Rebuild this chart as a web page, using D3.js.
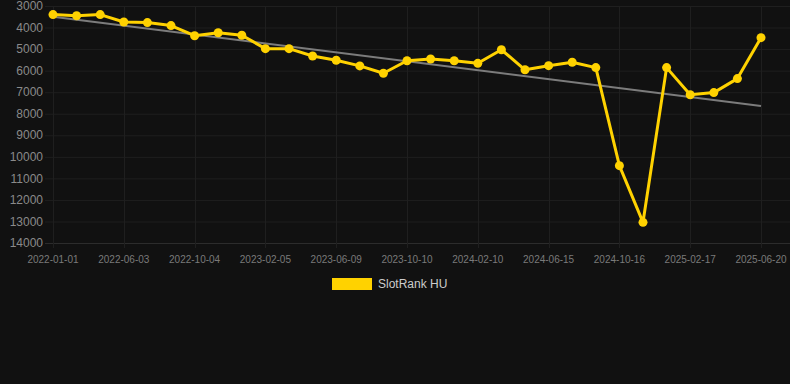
<!DOCTYPE html>
<html>
<head>
<meta charset="utf-8">
<script src="https://cdn.jsdelivr.net/npm/d3@7"></script>
<style>
  html, body { margin: 0; padding: 0; background: #111111; }
  svg { display: block; }
</style>
</head>
<body>
<svg id="chart" width="790" height="384"></svg>
<script>
// categories (only every third one gets a label on the axis)
const dates = [
  "2022-01-01", "2022-02-21", "2022-04-13",
  "2022-06-03", "2022-07-14", "2022-08-24",
  "2022-10-04", "2022-11-14", "2022-12-25",
  "2023-02-05", "2023-03-18", "2023-04-28",
  "2023-06-09", "2023-07-20", "2023-08-30",
  "2023-10-10", "2023-11-20", "2023-12-31",
  "2024-02-10", "2024-03-22", "2024-05-03",
  "2024-06-15", "2024-07-26", "2024-09-05",
  "2024-10-16", "2024-11-26", "2025-01-06",
  "2025-02-17", "2025-03-30", "2025-05-10",
  "2025-06-20",
];
// SlotRank HU values
const rank = [
  3400, 3450, 3400, 3740, 3770, 3910, 4380, 4240, 4360, 4980,
  4980, 5320, 5520, 5780, 6120, 5540, 5460, 5540, 5660, 5030,
  5960, 5770, 5610, 5860, 10410, 13040, 5860, 7120, 7020, 6370,
  4470,
];
// trend line, first and last value
const trend = [3500, 7640];
const yTicks = [3000, 4000, 5000, 6000, 7000, 8000, 9000, 10000, 11000, 12000, 13000, 14000];
const seriesName = "SlotRank HU";

const svg = d3.select("#chart");
const margin = { top: 6, left: 53, right: 29, bottom: 141 };
const width = 790, height = 384;
const lineColor = "#ffd200";
const gridColor = "#1f1f1f";
const textColor = "#8a8a8a";

const x = d3.scalePoint(dates, [margin.left, width - margin.right]);
const y = d3.scaleLinear([3000, 14000], [margin.top, height - margin.bottom]);

// 网格
svg.append("g")
  .attr("class", "grid-y")
  .selectAll("line")
  .data(yTicks)
  .join("line")
  .attr("x1", margin.left - 8)
  .attr("x2", width)
  .attr("y1", (d) => y(d) + 0.5)
  .attr("y2", (d) => y(d) + 0.5)
  .attr("stroke", (d) => (d === 14000 ? "#2c2c2c" : gridColor))
  .attr("stroke-width", 1);

const labeled = dates.filter((_, i) => i % 3 === 0);
svg.append("g")
  .attr("class", "grid-x")
  .selectAll("line")
  .data(labeled)
  .join("line")
  .attr("x1", (d) => Math.round(x(d)) + 0.5)
  .attr("x2", (d) => Math.round(x(d)) + 0.5)
  .attr("y1", margin.top)
  .attr("y2", height - margin.bottom + 5)
  .attr("stroke", gridColor)
  .attr("stroke-width", 1);

// y axis labels
svg.append("g")
  .attr("class", "axis-y")
  .selectAll("text")
  .data(yTicks)
  .join("text")
  .attr("x", 43)
  .attr("y", (d) => y(d))
  .attr("dy", "0.35em")
  .attr("text-anchor", "end")
  .attr("font-family", "Liberation Sans, Arial, sans-serif")
  .attr("font-size", 12)
  .attr("fill", textColor)
  .text((d) => d);

// x axis labels
svg.append("g")
  .attr("class", "axis-x")
  .selectAll("text")
  .data(labeled)
  .join("text")
  .attr("x", (d) => x(d))
  .attr("y", 259)
  .attr("dy", "0.35em")
  .attr("text-anchor", "middle")
  .attr("font-family", "Liberation Sans, Arial, sans-serif")
  .attr("font-size", 10)
  .attr("fill", "#7a7a7a")
  .text((d) => d);

// trend line
svg.append("line")
  .attr("x1", x(dates[0]))
  .attr("y1", y(trend[0]))
  .attr("x2", x(dates[dates.length - 1]))
  .attr("y2", y(trend[1]))
  .attr("stroke", "#7c7c7c")
  .attr("stroke-width", 2);

// series
const line = d3.line()
  .x((d, i) => x(dates[i]))
  .y((d) => y(d));

svg.append("path")
  .datum(rank)
  .attr("d", line)
  .attr("fill", "none")
  .attr("stroke", lineColor)
  .attr("stroke-width", 3)
  .attr("stroke-linejoin", "round");

svg.append("g")
  .attr("class", "points")
  .selectAll("circle")
  .data(rank)
  .join("circle")
  .attr("cx", (d, i) => x(dates[i]))
  .attr("cy", (d) => y(d))
  .attr("r", 4.5)
  .attr("fill", lineColor);

// 图例
svg.append("g")
  .attr("class", "legendG")
  .attr("transform", "translate(332, 278)")
  .call((g) => {
    g.append("rect")
      .attr("width", 40)
      .attr("height", 12)
      .attr("fill", lineColor);
    g.append("text")
      .attr("x", 46)
      .attr("y", 6)
      .attr("dy", "0.35em")
      .attr("font-family", "Liberation Sans, Arial, sans-serif")
      .attr("font-size", 12)
      .attr("fill", "#cccccc")
      .text(seriesName);
  });
</script>
</body>
</html>
